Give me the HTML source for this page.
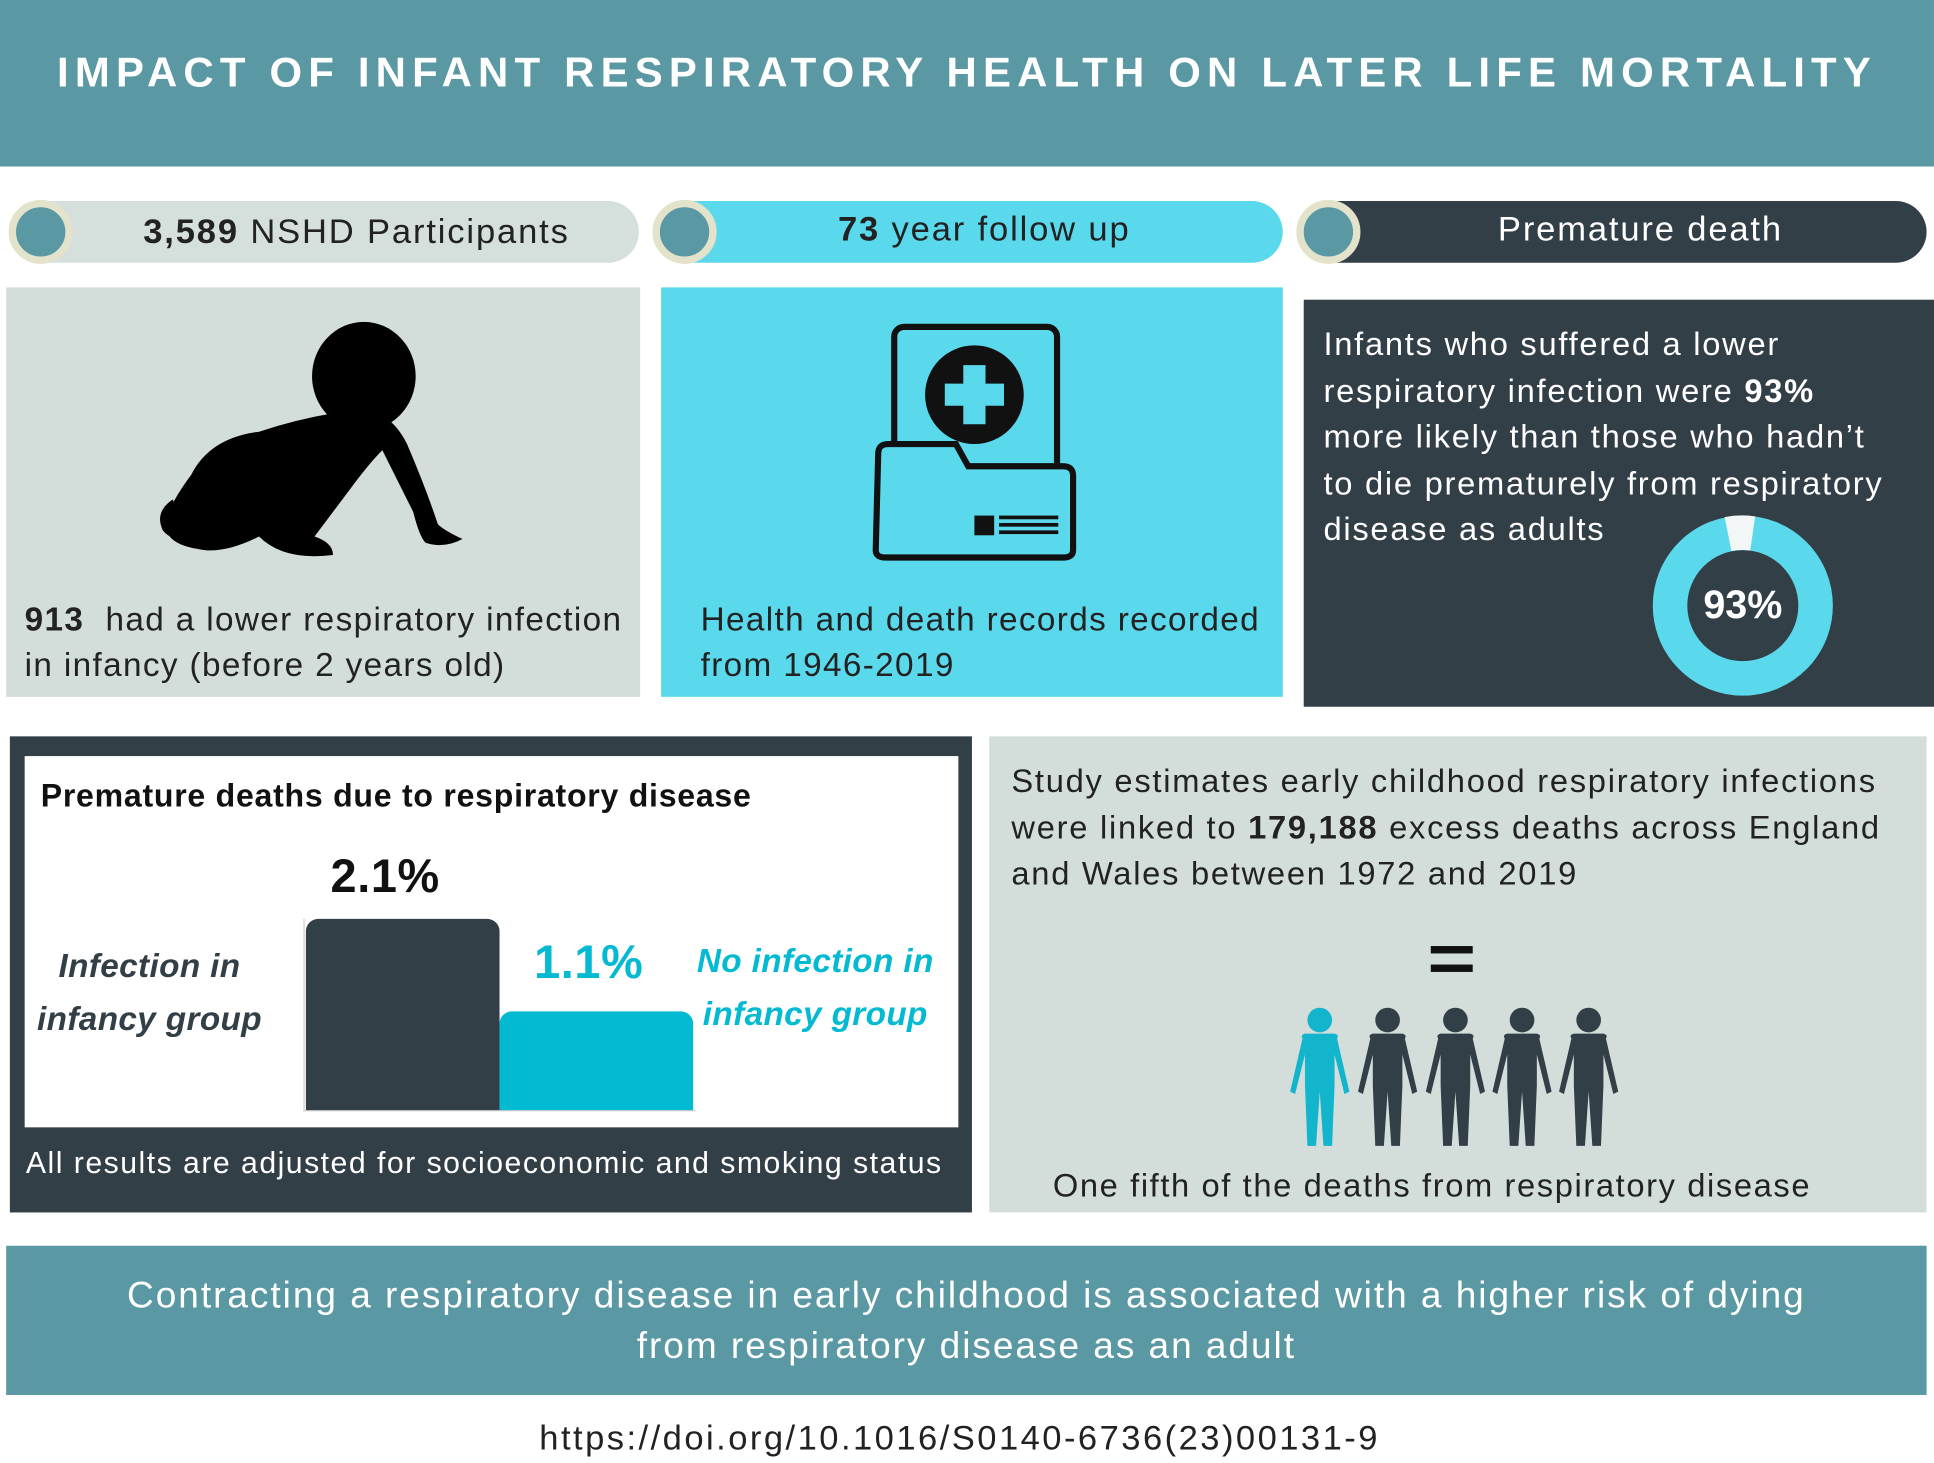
<!DOCTYPE html>
<html><head><meta charset="utf-8"><style>
html,body{margin:0;padding:0;background:#fff;width:1934px;height:1462px;overflow:hidden}
#w{position:absolute;left:0;top:0;width:1568px;height:1186px;transform:scale(1.23342);transform-origin:0 0;font-family:"Liberation Sans",sans-serif}
.a{position:absolute}
.t{position:absolute;white-space:nowrap;letter-spacing:1.3px}
.pill{position:absolute;height:50px;top:163px;border-radius:25px}
.dot{position:absolute;top:162px;width:40px;height:40px;border-radius:50%;background:#5a98a3;border:6px solid #e3e3cc;box-sizing:content-box;margin-left:-26px}
</style></head><body><div id="w">
<div class="a" style="left:0;top:0;width:1568px;height:135px;background:#5a98a3"></div>
<div class="t" style="left:0;width:1568px;top:40px;text-align:center;color:#fff;font-weight:bold;font-size:34px;letter-spacing:5px">IMPACT OF INFANT RESPIRATORY HEALTH ON LATER LIFE MORTALITY</div>

<div class="pill" style="left:8px;width:510px;background:#d5dfdc"></div>
<div class="dot" style="left:33px"></div>
<div class="t" style="left:60px;width:458px;top:172px;text-align:center;font-size:28px;color:#222;letter-spacing:1.5px"><b>3,589</b> NSHD Participants</div>
<div class="pill" style="left:530px;width:510px;background:#5ad8ec"></div>
<div class="dot" style="left:555px"></div>
<div class="t" style="left:580px;width:436px;top:170px;text-align:center;font-size:28px;color:#222;letter-spacing:1.5px"><b>73</b> year follow up</div>
<div class="pill" style="left:1052px;width:510px;background:#333f47"></div>
<div class="dot" style="left:1077px"></div>
<div class="t" style="left:1100px;width:460px;top:170px;text-align:center;font-size:28px;color:#fff;letter-spacing:1.5px">Premature death</div>

<div class="a" style="left:5px;top:233px;width:514px;height:332px;background:#d3dedb"></div>
<svg class="a" style="left:120px;top:255px" width="270" height="210" viewBox="0 0 270 210">
<g fill="#000">
<ellipse cx="175" cy="50" rx="42" ry="44"/>
<path d="M150 80 Q120 85 90 95 Q50 100 35 130 Q20 150 15 165 Q10 185 40 190 Q60 195 90 180 Q110 200 150 195 Q150 185 135 180 Q150 160 165 140 Q180 120 190 110 Q200 130 215 160 Q220 180 225 185 Q240 190 255 182 Q240 175 235 170 Q225 140 210 105 Q200 85 185 80 Z"/>
<path d="M20 150 Q5 160 12 175 Q20 185 35 180 Z"/>
</g></svg>
<div class="t" style="left:20px;top:484px;font-size:27px;color:#222;line-height:37px;letter-spacing:1.1px"><b>913</b>&nbsp; had a lower respiratory infection<br>in infancy (before 2 years old)</div>

<div class="a" style="left:536px;top:233px;width:504px;height:332px;background:#5bd9ec"></div>
<svg class="a" style="left:700px;top:258px" width="180" height="200" viewBox="0 0 180 200">
<rect x="25" y="7" width="132" height="140" rx="8" fill="#5bd9ec" stroke="#111" stroke-width="5"/>
<circle cx="90" cy="62" r="40" fill="#111"/>
<path d="M81 38h18v15h15v18h-15v15h-18v-15h-15v-18h15z" fill="#5bd9ec"/>
<path d="M12 110 Q12 102 20 102 L75 102 L85 120 L162 120 Q170 120 170 128 L170 188 Q170 194 162 194 L18 194 Q10 194 10 188 Z" fill="#5bd9ec" stroke="#111" stroke-width="5"/>
<rect x="90" y="160" width="16" height="16" fill="#111"/>
<rect x="110" y="160" width="48" height="3" fill="#111"/><rect x="110" y="166" width="48" height="3" fill="#111"/><rect x="110" y="172" width="48" height="3" fill="#111"/>
</svg>
<div class="t" style="left:568px;top:484px;font-size:27px;color:#222;line-height:37px;letter-spacing:1.1px">Health and death records recorded<br>from 1946-2019</div>

<div class="a" style="left:1057px;top:243px;width:511px;height:330px;background:#333f47"></div>
<div class="t" style="left:1073px;top:261px;font-size:26.5px;color:#fff;line-height:37.5px;letter-spacing:1.4px">Infants who suffered a lower<br>respiratory infection were <b>93%</b><br>more likely than those who hadn’t<br>to die prematurely from respiratory<br>disease as adults</div>
<svg class="a" style="left:1335px;top:413px" width="156" height="156" viewBox="0 0 156 156">
<circle cx="78" cy="78" r="59" fill="none" stroke="#5ad8ec" stroke-width="28"/>
<path d="M66 20 A59 59 0 0 1 86 19.5" fill="none" stroke="#f2f6f6" stroke-width="28"/>
</svg>
<div class="t" style="left:1335px;width:156px;top:472px;text-align:center;color:#fff;font-weight:bold;font-size:32px;letter-spacing:0">93%</div>

<div class="a" style="left:8px;top:597px;width:780px;height:386px;background:#333f47"></div>
<div class="a" style="left:20px;top:613px;width:757px;height:301px;background:#fff"></div>
<div class="t" style="left:33px;top:630px;font-size:26px;font-weight:bold;color:#111;letter-spacing:0.6px">Premature deaths due to respiratory disease</div>
<div class="a" style="left:246px;top:745px;width:1px;height:156px;background:#ccc"></div>
<div class="a" style="left:246px;top:900px;width:318px;height:1px;background:#ccc"></div>
<div class="a" style="left:248px;top:745px;width:157px;height:155px;background:#333f47;border-radius:10px 10px 0 0"></div>
<div class="a" style="left:405px;top:820px;width:157px;height:80px;background:#03bad2;border-radius:10px 10px 0 0"></div>
<div class="t" style="left:268px;top:690px;font-size:38px;font-weight:bold;color:#111;letter-spacing:0.5px">2.1%</div>
<div class="t" style="left:433px;top:760px;font-size:38px;font-weight:bold;color:#03bad2;letter-spacing:0.5px">1.1%</div>
<div class="t" style="left:30px;top:762px;font-size:27px;font-weight:bold;font-style:italic;color:#333f47;line-height:43px;text-align:center;letter-spacing:0.3px">Infection in<br>infancy group</div>
<div class="t" style="left:565px;top:758px;font-size:27px;font-weight:bold;font-style:italic;color:#03bad2;line-height:43px;text-align:center;letter-spacing:0.3px">No infection in<br>infancy group</div>
<div class="t" style="left:21px;top:930px;font-size:24.5px;color:#fff;letter-spacing:1.2px">All results are adjusted for socioeconomic and smoking status</div>

<div class="a" style="left:802px;top:597px;width:760px;height:386px;background:#d3dedb"></div>
<div class="t" style="left:820px;top:615px;font-size:26.5px;color:#222;line-height:37.5px;letter-spacing:1.4px">Study estimates early childhood respiratory infections<br>were linked to <b>179,188</b> excess deaths across England<br>and Wales between 1972 and 2019</div>
<div class="a" style="left:1160px;top:767px;width:34px;height:6px;background:#111"></div>
<div class="a" style="left:1160px;top:782px;width:34px;height:6px;background:#111"></div>
<svg class="a" style="left:1040px;top:815px" width="290" height="118" viewBox="0 0 290 118">
<defs><g id="p"><circle cx="0" cy="12" r="10"/><path d="M-14 27 Q-16 24 -12 23 L12 23 Q16 24 14 27 L24 70 L20 72 L12 40 L12 65 L10 114 L3 114 L0 70 L-3 114 L-10 114 L-12 65 L-12 40 L-20 72 L-24 70 Z"/></g></defs>
<use href="#p" x="30" fill="#12b5cc"/>
<use href="#p" x="85" fill="#333f47"/>
<use href="#p" x="140" fill="#333f47"/>
<use href="#p" x="194" fill="#333f47"/>
<use href="#p" x="248" fill="#333f47"/>
</svg>
<div class="t" style="left:802px;width:718px;top:946px;text-align:center;font-size:26.5px;color:#222">One fifth of the deaths from respiratory disease</div>

<div class="a" style="left:5px;top:1010px;width:1557px;height:121px;background:#5a98a3"></div>
<div class="t" style="left:5px;width:1557px;top:1030px;text-align:center;font-size:30px;color:#fff;line-height:41px;letter-spacing:1.6px">Contracting a respiratory disease in early childhood is associated with a higher risk of dying<br>from respiratory disease as an adult</div>
<div class="t" style="left:0;width:1556px;top:1150px;text-align:center;font-size:28px;color:#222;letter-spacing:2px">https://doi.org/10.1016/S0140-6736(23)00131-9</div>
</div></body></html>
